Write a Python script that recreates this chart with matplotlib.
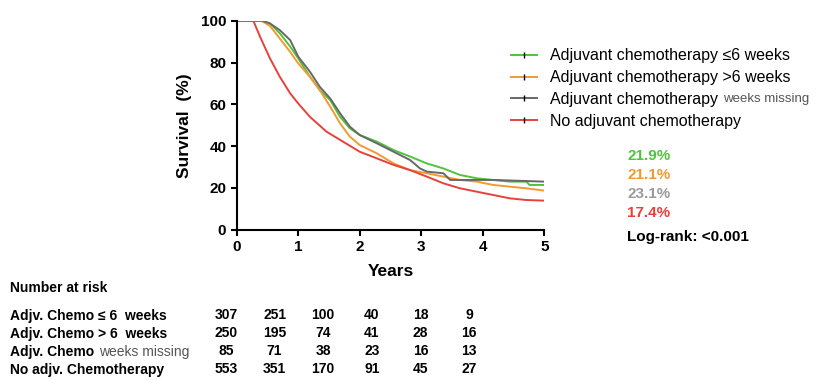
import numpy as np
import matplotlib
matplotlib.use("Agg")
import matplotlib.pyplot as plt
from matplotlib.lines import Line2D

plt.rcParams['font.family'] = ['Liberation Sans', 'DejaVu Sans']

# survival curves (years, %)
t_green = [0, 0.38, 0.54, 0.70, 0.87, 1.00, 1.19, 1.35, 1.52, 1.68, 1.84, 2.00, 2.28,
           2.55, 2.82, 3.09, 3.36, 3.63, 3.90, 4.17, 4.44, 4.71, 4.76, 5.00]
s_green = [100, 100, 98.7, 94.0, 87.6, 82.0, 73.2, 66.8, 62.0, 54.0, 48.5, 45.3, 42.1,
           38.1, 35.0, 31.7, 29.3, 26.2, 24.6, 23.8, 23.0, 23.0, 21.4, 21.4]

t_orange = [0, 0.40, 0.54, 0.70, 0.87, 1.00, 1.19, 1.35, 1.52, 1.68, 1.84, 2.00, 2.28,
            2.55, 2.82, 3.09, 3.36, 3.63, 3.90, 4.17, 4.44, 4.71, 5.00]
s_orange = [100, 100, 97.5, 91.5, 85.0, 79.6, 73.2, 66.8, 58.9, 50.9, 44.5, 40.5, 36.5,
            31.7, 28.5, 27.0, 25.4, 23.8, 23.0, 21.4, 20.6, 19.8, 18.7]

t_gray = [0, 0.42, 0.54, 0.70, 0.87, 1.00, 1.19, 1.35, 1.52, 1.68, 1.84, 2.00, 2.28,
          2.55, 2.82, 2.98, 3.09, 3.36, 3.47, 3.63, 4.17, 5.00]
s_gray = [100, 100, 98.7, 95.5, 90.7, 82.8, 75.6, 68.4, 62.8, 55.7, 49.3, 45.3, 41.3,
          37.3, 33.3, 29.3, 27.8, 27.0, 23.8, 23.8, 23.8, 23.0]

t_red = [0, 0.27, 0.38, 0.54, 0.70, 0.87, 1.00, 1.19, 1.46, 1.73, 2.00, 2.28, 2.55,
         2.82, 3.09, 3.36, 3.63, 3.90, 4.17, 4.44, 4.71, 5.00]
s_red = [100, 100, 92.3, 82.0, 73.2, 65.2, 60.4, 54.0, 46.9, 42.1, 37.3, 34.1, 31.0,
         28.5, 25.4, 22.2, 19.8, 18.2, 16.6, 15.0, 14.2, 13.9]

labels = ["Adjuvant chemotherapy \u22646 weeks", "Adjuvant chemotherapy >6 weeks",
          "Adjuvant chemotherapy", "No adjuvant chemotherapy"]
colors = ["#4dc43c", "#f29a30", "#686868", "#e8413b"]
five_year = ["21.9%", "21.1%", "23.1%", "17.4%"]
pct_colors = ["#4dc43c", "#f29a30", "#9a9a9a", "#e8413b"]

risk_labels = ["Adjv. Chemo \u2264 6  weeks", "Adjv. Chemo > 6  weeks", "Adjv. Chemo",
               "No adjv. Chemotherapy"]
risk_years = [0, 1, 2, 3, 4, 5]
risk_counts = [[307, 251, 100, 40, 18, 9],
               [250, 195, 74, 41, 28, 16],
               [85, 71, 38, 23, 16, 13],
               [553, 351, 170, 91, 45, 27]]

W, H = 822, 380
fig = plt.figure(figsize=(W / 100, H / 100), dpi=100)


def box(x0, y0, x1, y1):
    # pixel box (top-left origin) -> figure fraction rect
    return [x0 / W, 1 - y1 / H, (x1 - x0) / W, (y1 - y0) / H]


ax = fig.add_axes(box(236.7, 20.7, 544.3, 229.7))
curves = [(t_green, s_green), (t_orange, s_orange), (t_gray, s_gray), (t_red, s_red)]
for (t, s), c in zip(curves, colors):
    ax.plot(t, s, color=c, lw=1.4)
ax.set_xlim(0, 5)
ax.set_ylim(0, 100)
ax.set_xticks(range(6))
ax.set_yticks(range(0, 101, 20))
for side in ["top", "right"]:
    ax.spines[side].set_visible(False)
for side in ["left", "bottom"]:
    ax.spines[side].set_linewidth(1.5)
ax.tick_params(width=1.5, length=4, labelsize=11)
for lab in ax.get_xticklabels() + ax.get_yticklabels():
    lab.set_fontweight("bold")
ax.set_xlabel("Years", fontsize=12.5, fontweight="bold", labelpad=7)
ax.set_ylabel("Survival  (%)", fontsize=12.5, fontweight="bold", labelpad=6)

# legend
handles = [Line2D([], [], color=c, lw=1.4, marker="|", markersize=5,
                  markeredgecolor="black", markeredgewidth=1) for c in colors]
leg = fig.legend(handles, labels, loc="upper left", bbox_to_anchor=(505 / W, 1 - 42 / H),
                 frameon=False, fontsize=11.5, handlelength=1.6, handletextpad=0.8,
                 labelspacing=0.42, borderaxespad=0)
fig.canvas.draw()
renderer = fig.canvas.get_renderer()
bb = leg.get_texts()[2].get_window_extent(renderer)
fig.text(bb.x1 / W + 5 / W, (bb.y0 + bb.y1) / 2 / H, "weeks missing", fontsize=9.5,
         color="#555555", va="center", ha="left")

# 5-year survival
for i, (p, c) in enumerate(zip(five_year, pct_colors)):
    fig.text(627 / W, 1 - (156 + i * 18.9) / H, p, color=c, fontsize=11,
             fontweight="bold", va="center", ha="left")
fig.text(627 / W, 1 - 237 / H, "Log-rank: <0.001", fontsize=11, fontweight="bold",
         va="center", ha="left")

# number at risk table
fig.text(10 / W, 1 - 288 / H, "Number at risk", fontsize=10, fontweight="bold",
         va="center", ha="left")
tab = fig.add_axes(box(226, 306, 469, 378))
tab.set_xlim(0, 5)
tab.set_ylim(3.5, -0.5)
tab.axis("off")
row_y = [316, 334, 352, 370]
for r, (lab, counts) in enumerate(zip(risk_labels, risk_counts)):
    t = fig.text(10 / W, 1 - row_y[r] / H, lab, fontsize=10, fontweight="bold",
                 va="center", ha="left")
    if r == 2:
        fig.canvas.draw()
        b = t.get_window_extent(fig.canvas.get_renderer())
        fig.text(b.x1 / W + 5 / W, 1 - row_y[r] / H, "weeks missing", fontsize=10,
                 color="#555555", va="center", ha="left")
    for yr, n in zip(risk_years, counts):
        tab.text(yr, r + 0.0, str(n), fontsize=10, fontweight="bold", va="center",
                 ha="center", family=["Liberation Sans Narrow", "Liberation Sans"])

fig.savefig("out.png", dpi=100)
